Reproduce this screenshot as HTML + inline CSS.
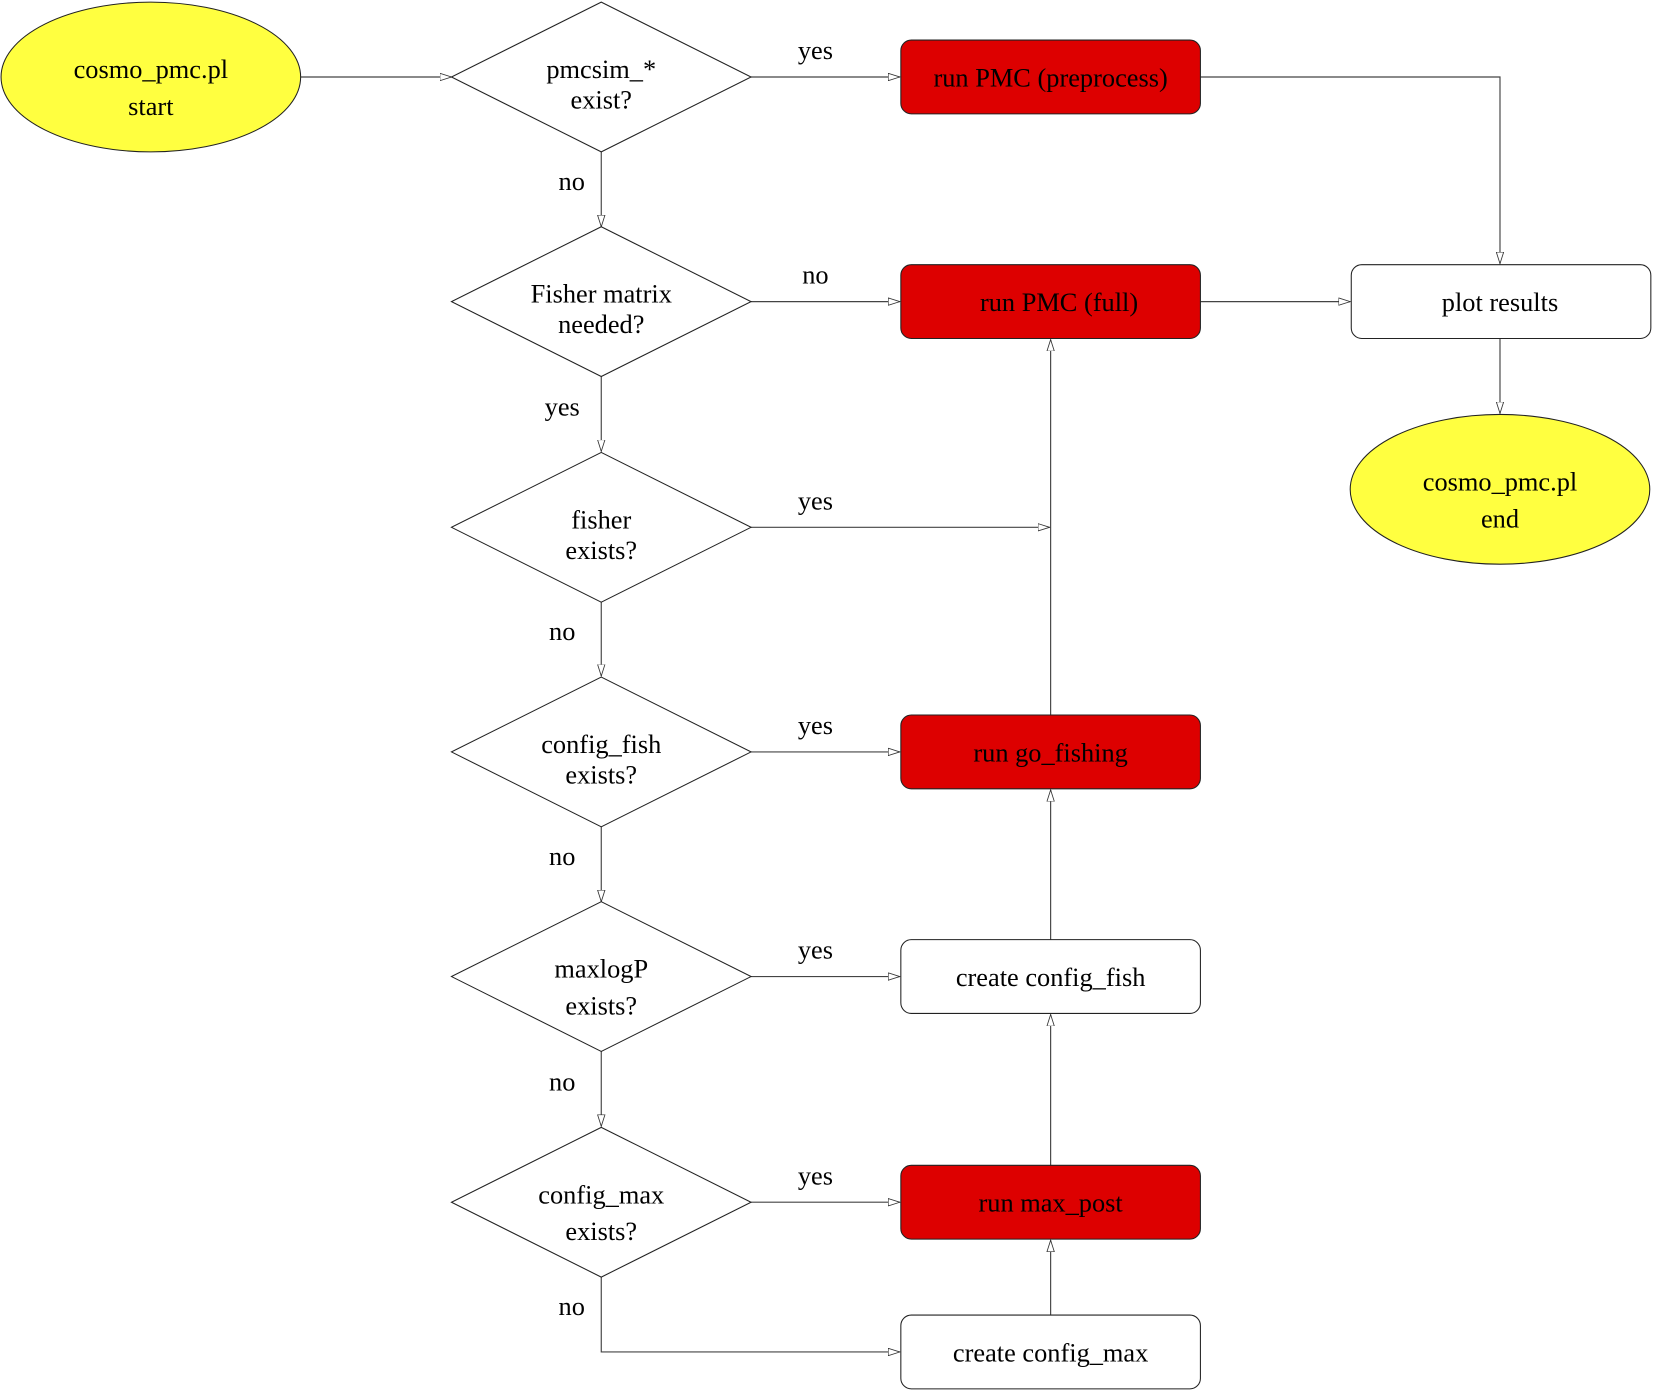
<!DOCTYPE html>
<html><head><style>html,body{margin:0;padding:0;background:#fff}svg{display:block}</style></head>
<body>
<svg width="1654" height="1391" viewBox="0 0 1568 1319" preserveAspectRatio="none" xmlns="http://www.w3.org/2000/svg" font-family="Liberation Serif, serif" font-size="25">
<defs>
<marker id="a" markerWidth="12" markerHeight="8" refX="11" refY="4" orient="auto" markerUnits="userSpaceOnUse">
<path d="M0,0.5 L11,4 L0,7.5 Z" fill="#fff" stroke="#333" stroke-width="0.8"/>
</marker>
</defs>
<g stroke="#444" stroke-width="1.1" fill="none">
<line x1="285" y1="73" x2="428" y2="73" marker-end="url(#a)"/>
<line x1="712" y1="73" x2="853" y2="73" marker-end="url(#a)"/>
<polyline points="1138,73 1422,73 1422,250" marker-end="url(#a)"/>
<line x1="570" y1="144" x2="570" y2="215" marker-end="url(#a)"/>
<line x1="712" y1="286" x2="853" y2="286" marker-end="url(#a)"/>
<line x1="1138" y1="286" x2="1280" y2="286" marker-end="url(#a)"/>
<line x1="1422" y1="321" x2="1422" y2="392" marker-end="url(#a)"/>
<line x1="570" y1="357" x2="570" y2="428" marker-end="url(#a)"/>
<line x1="712" y1="500" x2="995" y2="500" marker-end="url(#a)"/>
<line x1="570" y1="571" x2="570" y2="641" marker-end="url(#a)"/>
<line x1="712" y1="713" x2="853" y2="713" marker-end="url(#a)"/>
<line x1="996" y1="678" x2="996" y2="322" marker-end="url(#a)"/>
<line x1="570" y1="784" x2="570" y2="855" marker-end="url(#a)"/>
<line x1="712" y1="926" x2="853" y2="926" marker-end="url(#a)"/>
<line x1="996" y1="891" x2="996" y2="749" marker-end="url(#a)"/>
<line x1="570" y1="997" x2="570" y2="1068" marker-end="url(#a)"/>
<line x1="712" y1="1140" x2="853" y2="1140" marker-end="url(#a)"/>
<line x1="996" y1="1105" x2="996" y2="962" marker-end="url(#a)"/>
<line x1="996" y1="1247" x2="996" y2="1176" marker-end="url(#a)"/>
<polyline points="570,1211 570,1282 853,1282" marker-end="url(#a)"/>
</g>
<g stroke="#222" stroke-width="1">
<ellipse cx="143" cy="73" rx="142" ry="71" fill="#ffff40"/>
<ellipse cx="1422" cy="464" rx="142" ry="71" fill="#ffff40"/>
<g fill="#fff">
<polygon points="570,2 712,73 570,144 428,73"/>
<polygon points="570,215 712,286 570,357 428,286"/>
<polygon points="570,429 712,500 570,571 428,500"/>
<polygon points="570,642 712,713 570,784 428,713"/>
<polygon points="570,855 712,926 570,997 428,926"/>
<polygon points="570,1069 712,1140 570,1211 428,1140"/>
<rect x="854" y="891" width="284" height="70" rx="10"/>
<rect x="854" y="1247" width="284" height="70" rx="10"/>
<rect x="1281" y="251" width="284" height="70" rx="10"/>
</g>
<g fill="#dd0000">
<rect x="854" y="38" width="284" height="70" rx="10"/>
<rect x="854" y="251" width="284" height="70" rx="10"/>
<rect x="854" y="678" width="284" height="70" rx="10"/>
<rect x="854" y="1105" width="284" height="70" rx="10"/>
</g>
</g>
<g fill="#000" text-anchor="middle">
<text x="143" y="74">cosmo_pmc.pl</text><text x="143" y="109">start</text>
<text x="1422" y="465">cosmo_pmc.pl</text><text x="1422" y="500">end</text>
<text x="570" y="74">pmcsim_*</text><text x="570" y="103">exist?</text>
<text x="570" y="287">Fisher matrix</text><text x="570" y="316">needed?</text>
<text x="570" y="501">fisher</text><text x="570" y="530">exists?</text>
<text x="570" y="714">config_fish</text><text x="570" y="743">exists?</text>
<text x="570" y="927">maxlogP</text><text x="570" y="962">exists?</text>
<text x="570" y="1141">config_max</text><text x="570" y="1176">exists?</text>
<text x="996" y="82">run PMC (preprocess)</text>
<text x="1004" y="295">run PMC (full)</text>
<text x="996" y="722">run go_fishing</text>
<text x="996" y="1149">run max_post</text>
<text x="996" y="935">create config_fish</text>
<text x="996" y="1291">create config_max</text>
<text x="1422" y="295">plot results</text>
<text x="773" y="56">yes</text>
<text x="542" y="180">no</text>
<text x="773" y="269">no</text>
<text x="533" y="394">yes</text>
<text x="773" y="483">yes</text>
<text x="533" y="607">no</text>
<text x="773" y="696">yes</text>
<text x="533" y="820">no</text>
<text x="773" y="909">yes</text>
<text x="533" y="1034">no</text>
<text x="773" y="1123">yes</text>
<text x="542" y="1247">no</text>
</g>
</svg>
</body></html>
